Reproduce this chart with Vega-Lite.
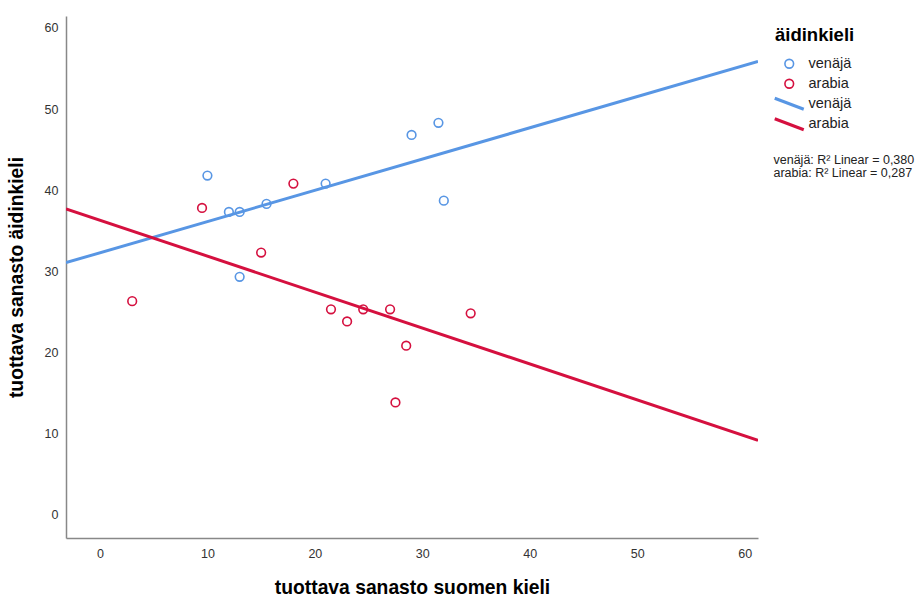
{
  "$schema": "https://vega.github.io/schema/vega-lite/v6.json",
  "autosize": {"type": "none"},
  "width": 692,
  "height": 522,
  "padding": {"left": 66, "top": 16, "right": 163, "bottom": 59},
  "background": "white",
  "config": {
    "view": {"stroke": null},
    "font": "Liberation Sans",
    "axis": {
      "grid": false,
      "ticks": false,
      "domainColor": "#888888",
      "domainWidth": 1.5,
      "labelFont": "Liberation Sans",
      "labelFontSize": 12.5,
      "labelColor": "#333333",
      "titleFont": "Liberation Sans",
      "titleFontSize": 19.3,
      "titleFontWeight": "bold",
      "titleColor": "#000000"
    },
    "legend": {
      "padding": 0,
      "labelFont": "Liberation Sans",
      "labelFontSize": 14.5,
      "labelColor": "#222222",
      "titleFont": "Liberation Sans",
      "titleFontSize": 18.5,
      "titleFontWeight": "bold",
      "titleColor": "#000000"
    }
  },
  "data": {
    "values": [
      {"x": 10.0, "y": 41.8, "kieli": "venäjä", "r2": "venäjä: R² Linear = 0,380"},
      {"x": 12.0, "y": 37.3, "kieli": "venäjä", "r2": "venäjä: R² Linear = 0,380"},
      {"x": 13.0, "y": 37.3, "kieli": "venäjä", "r2": "venäjä: R² Linear = 0,380"},
      {"x": 15.5, "y": 38.3, "kieli": "venäjä", "r2": "venäjä: R² Linear = 0,380"},
      {"x": 13.0, "y": 29.3, "kieli": "venäjä", "r2": "venäjä: R² Linear = 0,380"},
      {"x": 21.0, "y": 40.8, "kieli": "venäjä", "r2": "venäjä: R² Linear = 0,380"},
      {"x": 29.0, "y": 46.8, "kieli": "venäjä", "r2": "venäjä: R² Linear = 0,380"},
      {"x": 31.5, "y": 48.3, "kieli": "venäjä", "r2": "venäjä: R² Linear = 0,380"},
      {"x": 32.0, "y": 38.7, "kieli": "venäjä", "r2": "venäjä: R² Linear = 0,380"},
      {"x": 3.0, "y": 26.3, "kieli": "arabia", "r2": "arabia: R² Linear = 0,287"},
      {"x": 9.5, "y": 37.8, "kieli": "arabia", "r2": "arabia: R² Linear = 0,287"},
      {"x": 15.0, "y": 32.3, "kieli": "arabia", "r2": "arabia: R² Linear = 0,287"},
      {"x": 18.0, "y": 40.8, "kieli": "arabia", "r2": "arabia: R² Linear = 0,287"},
      {"x": 21.5, "y": 25.3, "kieli": "arabia", "r2": "arabia: R² Linear = 0,287"},
      {"x": 23.0, "y": 23.8, "kieli": "arabia", "r2": "arabia: R² Linear = 0,287"},
      {"x": 24.5, "y": 25.3, "kieli": "arabia", "r2": "arabia: R² Linear = 0,287"},
      {"x": 27.0, "y": 25.3, "kieli": "arabia", "r2": "arabia: R² Linear = 0,287"},
      {"x": 27.5, "y": 13.8, "kieli": "arabia", "r2": "arabia: R² Linear = 0,287"},
      {"x": 28.5, "y": 20.8, "kieli": "arabia", "r2": "arabia: R² Linear = 0,287"},
      {"x": 34.5, "y": 24.8, "kieli": "arabia", "r2": "arabia: R² Linear = 0,287"}
    ]
  },
  "layer": [
    {
      "transform": [
        {"regression": "y", "on": "x", "groupby": ["kieli"], "extent": [-3.16, 61.24]}
      ],
      "mark": {"type": "line", "strokeWidth": 3, "clip": true},
      "encoding": {
        "x": {"field": "x", "type": "quantitative",
              "scale": {"domain": [-3.16, 61.24], "nice": false, "zero": false},
              "axis": {"values": [0, 10, 20, 30, 40, 50, 60], "labelPadding": 9, "titlePadding": 19, "title": "tuottava sanasto suomen kieli"}},
        "y": {"field": "y", "type": "quantitative",
              "scale": {"domain": [-2.92, 61.48], "nice": false, "zero": false},
              "axis": {"values": [0, 10, 20, 30, 40, 50, 60], "labelPadding": 8, "titlePadding": 18, "title": "tuottava sanasto äidinkieli"}},
        "stroke": {"field": "kieli", "type": "nominal", "sort": ["venäjä", "arabia"],
                   "scale": {"range": ["#5896E4", "#D5103F"]},
                   "legend": {"orient": "none", "legendX": 709, "legendY": 80.5, "title": null,
                              "symbolType": "M-2.9,-1.1L2.9,1.1", "symbolSize": 100, "symbolStrokeWidth": 3,
                              "symbolOffset": 7, "labelOffset": 12, "rowPadding": -3.5}},
        "detail": {"field": "kieli"}
      }
    },
    {
      "mark": {"type": "point", "filled": false, "size": 75, "strokeWidth": 1.6, "opacity": 1},
      "encoding": {
        "x": {"field": "x", "type": "quantitative"},
        "y": {"field": "y", "type": "quantitative"},
        "color": {"field": "kieli", "type": "nominal",
                  "scale": {"domain": ["venäjä", "arabia"], "range": ["#5896E4", "#D5103F"]},
                  "legend": {"orient": "none", "legendX": 709, "legendY": 10, "title": "äidinkieli",
                             "titlePadding": 12, "symbolType": "circle", "symbolSize": 75, "symbolStrokeWidth": 1.6,
                             "symbolOffset": 7, "labelOffset": 12, "rowPadding": 4}}
      }
    },
    {
      "mark": {"type": "point", "opacity": 0},
      "encoding": {
        "x": {"field": "x", "type": "quantitative"},
        "y": {"field": "y", "type": "quantitative"},
        "shape": {"field": "r2", "type": "nominal",
                  "scale": {"domain": ["venäjä: R² Linear = 0,380", "arabia: R² Linear = 0,287"], "range": ["circle", "circle"]},
                  "legend": {"orient": "none", "legendX": 695, "legendY": 138, "title": null,
                             "symbolSize": 0, "symbolOpacity": 0, "symbolOffset": 0, "labelOffset": 0,
                             "labelFontSize": 12.5, "labelColor": "#222222", "rowPadding": -0.3}}
      }
    }
  ]
}
